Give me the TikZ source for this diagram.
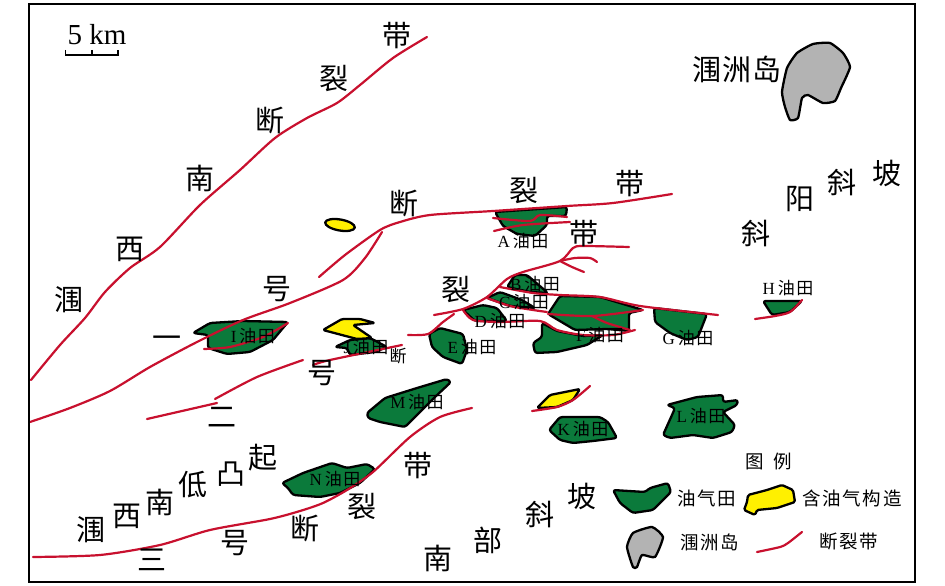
\documentclass[tikz,border=0pt]{standalone}
\usepackage{fontspec}
\setmainfont{Liberation Serif}
\newfontfamily\cjk{Noto Sans CJK SC}
\newfontfamily\cjksp[LetterSpace=9]{Noto Sans CJK SC}
\newfontfamily\cjkwide[LetterSpace=5]{Noto Sans CJK SC}
\definecolor{fgreen}{HTML}{0B7A3B}
\definecolor{fyellow}{HTML}{FFF000}
\definecolor{fgray}{HTML}{B3B3B3}
\definecolor{fred}{HTML}{C8102E}
\newcommand\fl[2]{#1{\cjksp\,#2}}
\tikzset{
  fault/.style={draw=fred,line width=2.2pt,line cap=round,line join=round},
  oilfield/.style={draw=black,line width=2.3pt,fill=fgreen,line join=round,rounded corners=2.5pt},
  prospect/.style={draw=black,line width=2.3pt,fill=fyellow,line join=round,rounded corners=1.5pt},
  island/.style={draw=black,line width=2.3pt,fill=fgray,line join=round},
  biglab/.style={inner sep=0pt,font=\fontsize{29}{29}\selectfont\cjk,text=black},
  fieldlab/.style={inner sep=0pt,font=\fontsize{17}{17}\selectfont,text=black},
  leglab/.style={inner sep=0pt,font=\fontsize{18.5}{18.5}\selectfont\cjksp,text=black},
}
\begin{document}
\begin{tikzpicture}[x=1pt,y=-1pt]
\useasboundingbox (0,0) rectangle (945,586);
\fill[white] (0,0) rectangle (945,586);
\newcommand\sm{plot[smooth,tension=.45] coordinates}
\newcommand\smc{plot[smooth cycle,tension=.3] coordinates}

% oil fields
\draw[oilfield] (495,212) -- (567,207) -- (566,216) -- (547,216) -- (547,225) -- (535,236) -- (517,234) -- (503,226) -- cycle;
\draw[oilfield] (515,275) -- (527,275) -- (548,293) -- (530,292) -- (507,287) -- cycle;
\draw[oilfield] (500,292) -- (522,300) -- (535,308) -- (510,306) -- (487,298) -- cycle;
\draw[oilfield] (463,310) -- (483,305) -- (497,308) -- (507,321) -- (475,321) -- cycle;
\draw[oilfield] (440,328) -- (463,334) -- (467,350) -- (462,364) -- (443,357) -- (432,347) -- (429,334) -- cycle;
\draw[oilfield] (560,296) -- (600,297) -- (643,310) -- (629,313) -- (629,331) -- (607,329) -- (575,330) -- (548,314) -- cycle;
\draw[oilfield] (542,323) -- (557,331) -- (583,336) -- (603,335) -- (587,345) -- (557,352) -- (535,353) -- (533,343) -- (542,337) -- cycle;
\draw[oilfield] (654,308) -- (707,314) -- (698,337) -- (687,340) -- (670,333) -- (655,322) -- cycle;
\draw[oilfield] (763,301) -- (802,301) -- (790,312) -- (772,315) -- cycle;
\draw[oilfield] (193,333) -- (210,323) -- (243,321) -- (288,322) -- (273,340) -- (250,352) -- (227,354) -- (208,348) -- (208,335) -- cycle;
\draw[oilfield] (335,347) -- (350,340) -- (370,338) -- (387,347) -- (375,352) -- (350,355) -- (347,348) -- cycle;
\draw[oilfield] (367,413) -- (385,398) -- (417,388) -- (447,379) -- (451,382) -- (435,397) -- (405,427) -- (380,422) -- (368,418) -- cycle;
\draw[oilfield] (560,417) -- (600,417) -- (608,422) -- (617,438) -- (593,441) -- (573,443) -- (560,440) -- (549,430) -- cycle;
\draw[oilfield] (667,405) -- (697,397) -- (723,395) -- (723,402) -- (738,400) -- (737,405) -- (723,412) -- (735,425) -- (732,432) -- (713,438) -- (693,435) -- (670,438) -- (663,435) -- (672,415) -- (675,408) -- cycle;
\draw[oilfield] (282,483) -- (303,473) -- (332,463) -- (347,468) -- (367,464) -- (375,469) -- (360,483) -- (340,493) -- (320,497) -- (293,495) -- (288,488) -- cycle;
% prospects
\draw[prospect,rotate around={-10:(340,225)}] (340,225) ellipse [x radius=15,y radius=5.5];
\draw[prospect] (323,330) -- (342,319) -- (360,319) -- (375,323) -- (353,325) -- (372,338) -- (357,339) -- cycle;
\draw[prospect] (537,408) -- (550,395) -- (580,389) -- (573,400) -- (557,407) -- cycle;
% island
\draw[island] \smc{(790,120) (798,118) (802,98) (808,95) (823,103) (835,101) (841,88) (850,67) (843,53) (830,43) (813,44) (797,53) (787,68) (782,92) (785,107)};

% faults
\draw[fault] \sm{(31,380) (60,345) (85,318) (105,292) (130,268) (160,247) (200,205) (240,170) (275,138) (307,118) (337,103) (360,85) (393,58) (427,37)};
\draw[fault] \sm{(30,422) (70,408) (110,391) (150,367) (197,342) (243,320) (290,303) (343,280) (365,258) (382,232)};
\draw[fault] \sm{(319,277) (345,255) (380,230) (400,222) (430,215) (493,211) (567,206) (613,203) (672,194)};
\draw[fault] \sm{(408,335) (428,334) (443,322) (454,314)};
\draw[fault] \sm{(434,315) (463,309) (487,297) (507,279) (523,272) (560,261) (573,248) (583,246) (629,247)};
\draw[fault] \sm{(560,261) (575,258) (590,258) (597,262)};
\draw[fault] \sm{(560,261) (572,267) (584,272)};
\draw[fault] \sm{(500,287) (533,293) (560,295) (600,297) (640,306) (718,315)};
\draw[fault] \sm{(487,298) (510,306) (533,310) (547,312)};
\draw[fault] \sm{(463,310) (473,320) (500,322) (540,321) (557,330) (583,335) (613,335) (635,330)};
\draw[fault] \sm{(548,314) (593,316) (643,310)};
\draw[fault] \sm{(592,316) (607,323) (630,330)};
\draw[fault] \sm{(493,218) (530,221) (540,215) (567,217)};
\draw[fault] \sm{(494,231) (523,225) (570,222)};
\draw[fault] \sm{(755,319) (775,316) (790,312) (802,300)};
\draw[fault] \sm{(204,349) (230,347) (263,337) (288,323)};
\draw[fault] \sm{(313,365) (330,360) (402,345)};
\draw[fault] \sm{(215,399) (257,377) (303,360)};
\draw[fault] \sm{(147,419) (217,403)};
\draw[fault] \sm{(532,411) (557,407) (573,400) (590,386)};
\draw[fault] \sm{(33,557) (100,555) (160,545) (210,530) (270,519) (300,511) (323,503) (347,490) (373,472) (410,437) (440,417) (472,408)};
\draw[fault] \sm{(757,552) (780,547) (788,543) (802,532)};

% legend symbols
\draw[oilfield] (613,490) -- (645,492) -- (650,488) -- (668,483) -- (671,492) -- (653,510) -- (633,513) -- (620,503) -- cycle;
\draw[prospect] (747,502) -- (748,495) -- (767,490) -- (782,485) -- (793,490) -- (795,502) -- (777,508) -- (757,510) -- (755,515) -- (744,510) -- cycle;
\draw[island] \smc{(633,567) (627,547) (633,533) (652,527) (663,537) (655,557) (642,555) (637,567)};

% frame
\draw[black,line width=2.2pt] (29,4) rectangle (915,582);

% large region labels
\foreach \x/\y/\t [count=\i] in {
 397/36/带,334/79/裂,270/121/断,200/178/南,130/249/西,69/300/涠,
 167/342/一,277/289/号,322/373/号,222/417/二,
 404/204/断,524/191/裂,630/184/带,584/234/带,456/290/裂,
 800/199/阳,842/183/斜,887/173/坡,756/234/斜,
 91/530/涠,127/516/西,160/502/南,193/485/低,231/474/凸,263/458/起,
 152/560/三,235/543/号,305/529/断,362/507/裂,418/466/带,
 438/558/南,488/540/部,540/515/斜,582/496/坡}
 \node[biglab] (big\i) at (\x,\y) {\t};
\node[inner sep=0pt,font=\fontsize{17}{17}\selectfont\cjk] (smallduan) at (398,356) {断};
\node[biglab,font=\fontsize{29}{29}\selectfont\cjkwide] (zhou) at (737,69) {涠洲岛};

% field labels
\foreach \x/\y/\a/\n in {523/241/A/a,535/284/B/b,524/302/C/c,500/321/D/d,472/347/E/e,600/335/F/f,688/338/G/g,788/288/H/h,253/336/I/i,366/347/J/j,417/402/M/m,583/429/K/k,701/416/L/l,335/479/N/n}
 \node[fieldlab] (lab\n) at (\x,\y) {\fl{\a}{油田}};

% scale bar
\node[inner sep=0pt,font=\fontsize{29}{29}\selectfont] (scale) at (97,35) {5 km};
\draw[black,line width=1.6pt] (65.5,50) -- (65.5,55) -- (118,55) -- (118,50) (92,50) -- (92,55);

% legend texts
\node[leglab] (lt0) at (769,461) {图\hspace{10pt}例};
\node[leglab] (lt1) at (707,498) {油气田};
\node[leglab] (lt2) at (852,498) {含油气构造};
\node[leglab] (lt3) at (710,542) {涠洲岛};
\node[leglab] (lt4) at (849,541) {断裂带};
\end{tikzpicture}
\end{document}
